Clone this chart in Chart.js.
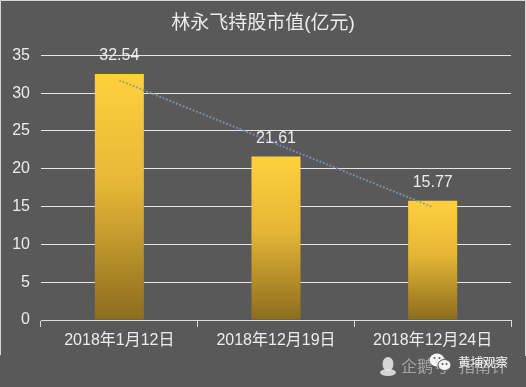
<!DOCTYPE html>
<html>
<head>
<meta charset="utf-8">
<script src="https://cdn.jsdelivr.net/npm/chart.js@4"></script>
<style>
html,body{margin:0;padding:0;background:#595959;}
#wrap{width:526px;height:387px;position:relative;overflow:hidden;}
</style>
</head>
<body>
<div id="wrap"><canvas id="c" width="526" height="387"></canvas></div>
<script>
const categories = ['2018年1月12日', '2018年12月19日', '2018年12月24日'];
const marketValue = [32.54, 21.61, 15.77];
const trendValue = [31.69, 23.31, 14.92];
const chartTitle = '林永飞持股市值(亿元)';
const FONT = '"Liberation Sans","Noto Sans CJK SC",sans-serif';
const TEXT = '#ececec';

const framePlugin = {
  id: 'frame',
  beforeDraw(chart) {
    const c = chart.ctx;
    c.save();
    c.fillStyle = '#595959';
    c.fillRect(0, 0, 526, 387);
    c.strokeStyle = '#d6d6d6';
    c.lineWidth = 1;
    c.beginPath();
    c.moveTo(0.5, 355); c.lineTo(0.5, 0.5); c.lineTo(525.5, 0.5); c.lineTo(525.5, 356);
    c.stroke();
    c.restore();
  }
};

const labelPlugin = {
  id: 'valueLabels',
  afterDatasetsDraw(chart) {
    const c = chart.ctx;
    const meta = chart.getDatasetMeta(1);
    c.save();
    c.font = '16px ' + FONT;
    c.fillStyle = TEXT;
    c.textAlign = 'center';
    c.textBaseline = 'middle';
    meta.data.forEach((bar, i) => {
      c.fillText(marketValue[i].toFixed(2), bar.x, bar.y - 18);
    });
    c.restore();
  }
};

const watermarkPlugin = {
  id: 'watermark',
  afterDraw(chart) {
    const c = chart.ctx;
    c.save();
    // penguin
    c.fillStyle = 'rgba(235,235,235,0.85)';
    c.beginPath(); c.ellipse(388, 364, 5.5, 7, 0, 0, Math.PI * 2); c.fill();
    c.beginPath(); c.ellipse(388, 372.5, 8, 3.5, 0, 0, Math.PI * 2); c.fill();
    // faint text
    c.font = '16px ' + FONT;
    c.textBaseline = 'middle';
    c.textAlign = 'left';
    c.fillStyle = 'rgba(255,255,255,0.45)';
    c.fillText('企鹅号', 401, 368);
    c.fillText('指南针', 459, 368);
    // wechat bubbles
    c.fillStyle = '#f4f4f4';
    c.beginPath(); c.ellipse(437, 360, 7.5, 6.5, 0, 0, Math.PI * 2); c.fill();
    c.strokeStyle = '#595959'; c.lineWidth = 1;
    c.beginPath(); c.ellipse(444.5, 365, 6.5, 5.5, 0, 0, Math.PI * 2); c.fill(); c.stroke();
    c.fillStyle = '#595959';
    [[434.5, 358], [439.5, 358], [442.5, 364], [446.5, 364]].forEach(p => {
      c.beginPath(); c.arc(p[0], p[1], 1, 0, Math.PI * 2); c.fill();
    });
    // bright text
    c.font = '12.5px "Noto Sans CJK SC",sans-serif';
    c.fillStyle = '#f2f2f2';
    c.fillText('黄埔观察', 458, 362);
    c.restore();
  }
};

function barGradient(ctx) {
  const chart = ctx.chart;
  const y = chart.scales.y;
  if (!y || ctx.raw === undefined || !chart.chartArea) return '#d9ac34';
  const g = chart.ctx.createLinearGradient(0, y.getPixelForValue(ctx.raw), 0, y.getPixelForValue(0));
  g.addColorStop(0, '#ffd03c');
  g.addColorStop(0.45, '#e6b736');
  g.addColorStop(1, '#8c6c1e');
  return g;
}

function trendGradient(ctx) {
  const chart = ctx.chart;
  if (!chart.chartArea) return '#6f8fb0';
  const g = chart.ctx.createLinearGradient(118, 0, 432, 0);
  g.addColorStop(0, '#a9a85a');
  g.addColorStop(0.12, '#7f93a0');
  g.addColorStop(0.5, '#6f8db4');
  g.addColorStop(0.92, '#7f93a0');
  g.addColorStop(1, '#a9a85a');
  return g;
}

new Chart(document.getElementById('c'), {
  data: {
    labels: categories,
    datasets: [
      {
        type: 'line',
        label: '趋势',
        data: trendValue,
        borderColor: trendGradient,
        borderWidth: 2,
        borderDash: [1.8, 1.8],
        pointRadius: 0,
        fill: false,
        tension: 0,
        order: 0
      },
      {
        type: 'bar',
        label: '持股市值',
        data: marketValue,
        backgroundColor: barGradient,
        barPercentage: 1,
        categoryPercentage: 0.313,
        order: 1
      }
    ]
  },
  plugins: [framePlugin, labelPlugin, watermarkPlugin],
  options: {
    responsive: false,
    animation: false,
    devicePixelRatio: 1,
    layout: { padding: 0, autoPadding: false },
    plugins: {
      legend: { display: false },
      tooltip: { enabled: false },
      title: {
        display: true,
        text: chartTitle,
        color: TEXT,
        font: { family: FONT, size: 19, weight: 'normal', lineHeight: 1.2 },
        padding: { top: 12, bottom: 20.5 }
      }
    },
    scales: {
      x: {
        afterFit(s) { s.height = 67; },
        border: { color: '#dcdcdc', width: 1 },
        grid: { drawOnChartArea: false, color: '#dcdcdc', tickLength: 7, offset: true },
        ticks: { color: TEXT, font: { family: FONT, size: 16 }, padding: 4, maxRotation: 0 }
      },
      y: {
        min: 0,
        max: 35,
        afterFit(s) { s.width = 41; },
        border: { display: false },
        grid: { color: '#e6e6e6', lineWidth: 1, drawTicks: false },
        ticks: { stepSize: 5, color: TEXT, font: { family: FONT, size: 16 }, padding: 11 }
      },
      rightGutter: {
        position: 'right',
        min: 0,
        max: 35,
        afterFit(s) { s.width = 15; },
        border: { display: false },
        grid: { drawOnChartArea: false, drawTicks: false },
        ticks: { display: false }
      }
    }
  }
});
</script>
</body>
</html>
